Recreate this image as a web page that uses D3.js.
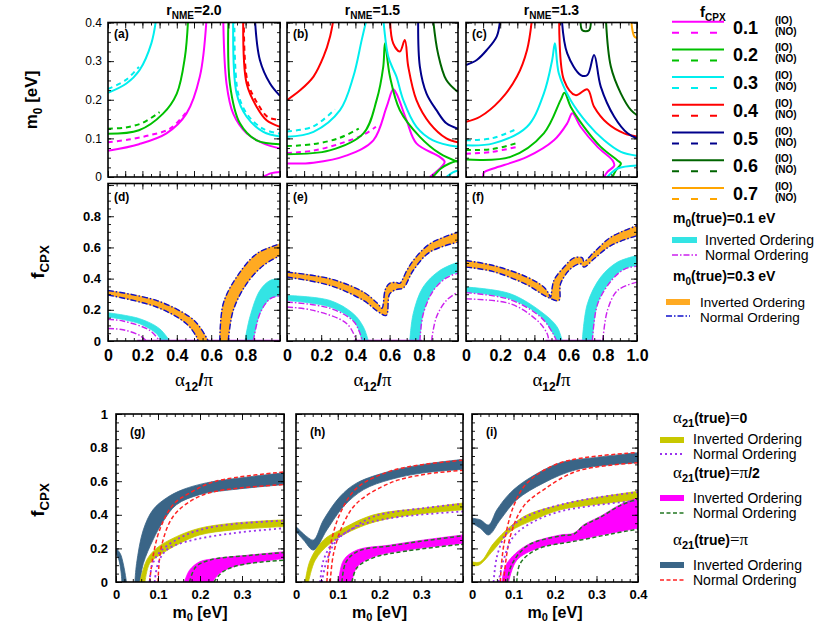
<!DOCTYPE html>
<html><head><meta charset="utf-8">
<script src="https://cdn.jsdelivr.net/npm/d3@7"></script>
<style>body{margin:0;background:#fff}</style>
</head><body><script>
// ---------------- DATA ----------------
const titles = ["2.0","1.5","1.3"];
const fcpxLevels = ["0.1","0.2","0.3","0.4","0.5","0.6","0.7"];
const topYTicks = [0,0.1,0.2,0.3,0.4];
const midYTicks = [0,0.2,0.4,0.6,0.8];
const midXTicks = [0,0.2,0.4,0.6,0.8];
const midXTicksF = [0,0.2,0.4,0.6,0.8,1.0];
const botYTicks = [0,0.2,0.4,0.6,0.8,1];
const botXTicks = [0,0.1,0.2,0.3];
const botXTicksI = [0,0.1,0.2,0.3,0.4];

// panel (a): [alpha12/pi, m0]
const a_m_L=[[0,0.068],[0.18,0.085],[0.34,0.113],[0.456,0.164],[0.534,0.26],[0.573,0.41]];
const a_m_L_no=[[0,0.09],[0.12,0.097],[0.24,0.108],[0.36,0.125],[0.46,0.17]];
const a_m_R=[[0.67,0.41],[0.689,0.242],[0.728,0.164],[0.806,0.113],[0.903,0.087],[1,0.074]];
const a_m_B=[[0.9,0],[0.95,0.01],[1,0.013]];
const a_g_L=[[0,0.112],[0.18,0.121],[0.32,0.164],[0.4,0.216],[0.447,0.31],[0.466,0.41]];
const a_g_L_no=[[0,0.125],[0.1,0.128],[0.2,0.14],[0.3,0.168]];
const a_g_R=[[0.7,0.41],[0.709,0.24],[0.767,0.139],[0.864,0.095],[1,0.085]];
const a_c_L=[[0,0.218],[0.107,0.242],[0.184,0.277],[0.252,0.346],[0.28,0.41]];
const a_c_L_no=[[0,0.228],[0.1,0.25],[0.18,0.285]];
const a_c_R=[[0.728,0.41],[0.748,0.216],[0.806,0.156],[0.903,0.117],[1,0.105]];
const a_c_R_no=[[0.735,0.41],[0.755,0.22],[0.81,0.162],[0.9,0.125],[1,0.112]];
const a_r_R=[[0.786,0.41],[0.806,0.242],[0.864,0.182],[0.922,0.147],[1,0.13]];
const a_r_R_no=[[0.79,0.41],[0.81,0.25],[0.87,0.19],[0.93,0.155],[1,0.148]];
const a_n_R=[[0.854,0.41],[0.883,0.303],[0.942,0.242],[1,0.21]];

// panel (b)
const b_m=[[0,0.035],[0.155,0.037],[0.35,0.056],[0.505,0.095],[0.583,0.182],[0.621,0.227],[0.64,0.216],[0.699,0.147],[0.757,0.087],[0.893,0.052],[0.922,0.039],[0.903,0.026],[0.835,0]];
const b_m_no=[[0,0.062],[0.15,0.068],[0.3,0.085],[0.45,0.11],[0.52,0.13]];
const b_g=[[0,0.059],[0.25,0.069],[0.447,0.113],[0.524,0.199],[0.563,0.286],[0.573,0.346],[0.602,0.26],[0.66,0.173],[0.777,0.104],[0.893,0.061],[1,0.039]];
const b_g_B=[[0.854,0],[0.9,0.022],[0.95,0.035],[1,0.042]];
const b_g_no=[[0,0.08],[0.15,0.085],[0.3,0.1],[0.42,0.125]];
const b_c_L=[[0,0.104],[0.155,0.117],[0.31,0.173],[0.388,0.26],[0.437,0.355],[0.466,0.41]];
const b_c_no=[[0,0.118],[0.15,0.13],[0.28,0.175]];
const b_c_R=[[0.563,0.41],[0.592,0.312],[0.62,0.28],[0.64,0.26],[0.68,0.199],[0.757,0.13],[0.854,0.095],[1,0.078]];
const b_c_B=[[0.932,0],[0.97,0.012],[1,0.017]];
const b_r_L=[[0,0.199],[0.078,0.225],[0.155,0.26],[0.214,0.312],[0.252,0.364],[0.272,0.41]];
const b_r_R=[[0.602,0.41],[0.621,0.346],[0.66,0.325],[0.689,0.355],[0.709,0.286],[0.757,0.199],[0.835,0.139],[0.932,0.1],[1,0.09]];
const b_n_R=[[0.767,0.41],[0.777,0.286],[0.816,0.216],[0.874,0.173],[0.932,0.139],[1,0.125]];
const b_dg_R=[[0.854,0.41],[0.883,0.32],[0.932,0.251],[1,0.22]];

// panel (c)
const c_m=[[0.1,0],[0.105,0.012],[0.16,0.022],[0.357,0.052],[0.514,0.095],[0.592,0.139],[0.622,0.165],[0.67,0.13],[0.769,0.078],[0.857,0.043],[0.867,0.03],[0.827,0.013],[0.808,0]];
const c_m_no=[[0,0.06],[0.15,0.065],[0.3,0.078]];
const c_g=[[0,0.045],[0.26,0.052],[0.455,0.113],[0.553,0.199],[0.576,0.218],[0.612,0.182],[0.69,0.13],[0.788,0.078],[0.886,0.043],[0.906,0.035],[0.876,0.017],[0.857,0]];
const c_g_no=[[0,0.07],[0.15,0.072],[0.3,0.088]];
const c_c=[[0,0.082],[0.16,0.087],[0.357,0.13],[0.455,0.216],[0.504,0.303],[0.52,0.346],[0.543,0.268],[0.612,0.199],[0.71,0.139],[0.808,0.095],[0.906,0.065],[1,0.055]];
const c_c_no=[[0,0.095],[0.15,0.1],[0.3,0.125]];
const c_c_B=[[0.827,0],[0.886,0.022],[1,0.03]];
const c_r_L=[[0,0.143],[0.082,0.156],[0.2,0.199],[0.298,0.26],[0.357,0.329],[0.386,0.41]];
const c_r_R=[[0.545,0.41],[0.573,0.251],[0.641,0.212],[0.71,0.227],[0.749,0.182],[0.827,0.139],[0.925,0.113],[1,0.105]];
const c_n_L=[[0,0.29],[0.063,0.303],[0.122,0.329],[0.18,0.364],[0.2,0.41]];
const c_n_R=[[0.56,0.41],[0.592,0.32],[0.671,0.264],[0.71,0.264],[0.749,0.316],[0.788,0.234],[0.867,0.156],[0.945,0.113],[1,0.1]];
const c_dg_T=[[0.67,0.41],[0.68,0.38],[0.72,0.38],[0.73,0.41]];
const c_dg_R=[[0.818,0.41],[0.847,0.286],[0.906,0.216],[0.965,0.173],[1,0.16]];
const c_o_R=[[0.965,0.41],[0.984,0.364],[1,0.36]];

// panel (d): [alpha12/pi, fCPX]
const d_o_up=[[0,0.324],[0.282,0.26],[0.476,0.154],[0.534,0.09],[0.583,0]];
const d_o_lo=[[0,0.295],[0.282,0.218],[0.456,0.111],[0.515,0.026],[0.524,0]];
const d_o2_up=[[0.65,0],[0.67,0.239],[0.748,0.41],[0.864,0.559],[1,0.623]];
const d_o2_lo=[[0.699,0],[0.728,0.196],[0.806,0.367],[0.903,0.484],[1,0.548]];
const d_c_up=[[0,0.181],[0.184,0.143],[0.3,0.079],[0.359,0]];
const d_c_lo=[[0,0.154],[0.184,0.111],[0.282,0.047],[0.31,0]];
const d_c2_up=[[0.796,0],[0.825,0.154],[0.883,0.324],[0.942,0.388],[1,0.4]];
const d_c2_lo=[[0.845,0],[0.883,0.175],[0.942,0.271],[1,0.292]];
const d_m1=[[0,0.139],[0.087,0.128],[0.243,0.068],[0.3,0]];
const d_m2=[[0,0.08],[0.087,0.072],[0.184,0.036],[0.223,0]];
const d_m3=[[0.845,0],[0.883,0.175],[0.942,0.27],[1,0.29]];
const d_m_base=[[0.17,0],[1,0]];

// panel (e)
const e_o_up=[[0,0.442],[0.252,0.399],[0.447,0.314],[0.53,0.24],[0.555,0.21],[0.575,0.33],[0.6,0.37],[0.64,0.375],[0.66,0.37],[0.7,0.45],[0.738,0.516],[0.835,0.623],[1,0.698]];
const e_o_lo=[[0,0.41],[0.252,0.356],[0.447,0.26],[0.53,0.19],[0.58,0.164],[0.6,0.3],[0.64,0.33],[0.68,0.34],[0.738,0.452],[0.835,0.57],[1,0.634]];
const e_c_up=[[0,0.292],[0.252,0.26],[0.388,0.175],[0.447,0.09],[0.476,0]];
const e_c_lo=[[0,0.26],[0.252,0.218],[0.388,0.132],[0.427,0.047],[0.437,0]];
const e_c2_up=[[0.718,0],[0.738,0.175],[0.796,0.346],[0.893,0.452],[1,0.506]];
const e_c2_lo=[[0.777,0],[0.796,0.175],[0.854,0.324],[0.932,0.41],[1,0.442]];
const e_m1=[[0,0.25],[0.252,0.21],[0.39,0.125],[0.43,0.04],[0.44,0]];
const e_m2=[[0,0.218],[0.155,0.196],[0.35,0.111],[0.408,0]];
const e_m3=[[0.777,0],[0.796,0.17],[0.854,0.32],[0.932,0.405],[1,0.435]];
const e_m4=[[0.845,0],[0.874,0.154],[0.932,0.26],[1,0.314]];
const e_m_base=[[0.39,0],[0.79,0]];

// panel (f)
const f_o_up=[[0,0.516],[0.16,0.484],[0.357,0.41],[0.455,0.346],[0.484,0.303],[0.494,0.28],[0.514,0.388],[0.573,0.474],[0.631,0.533],[0.68,0.533],[0.69,0.51],[0.749,0.57],[0.847,0.666],[1,0.74]];
const f_o_lo=[[0,0.474],[0.16,0.445],[0.357,0.36],[0.475,0.282],[0.543,0.26],[0.553,0.367],[0.612,0.463],[0.67,0.495],[0.69,0.474],[0.749,0.527],[0.847,0.612],[1,0.676]];
const f_c_up=[[0,0.346],[0.259,0.303],[0.455,0.175],[0.533,0.09],[0.563,0]];
const f_c_lo=[[0,0.314],[0.259,0.27],[0.44,0.155],[0.51,0.047],[0.533,0]];
const f_c2_up=[[0.68,0],[0.71,0.239],[0.788,0.41],[0.886,0.506],[1,0.548]];
const f_c2_lo=[[0.739,0],[0.769,0.239],[0.847,0.388],[0.925,0.463],[1,0.484]];
const f_m1=[[0,0.31],[0.259,0.265],[0.44,0.15],[0.51,0.045],[0.53,0]];
const f_m2=[[0,0.27],[0.259,0.239],[0.416,0.132],[0.475,0.047],[0.484,0]];
const f_m3=[[0.739,0],[0.769,0.235],[0.847,0.383],[0.925,0.46],[1,0.48]];
const f_m4=[[0.8,0],[0.827,0.196],[0.886,0.324],[1,0.378]];
const f_m_base=[[0.465,0],[0.79,0]];

// panel (g): [m0, fCPX]
const g_pi_up=[[0.045,0],[0.049,0.11],[0.065,0.31],[0.088,0.43],[0.12,0.5],[0.159,0.55],[0.215,0.59],[0.278,0.614],[0.4,0.65]];
const g_pi_lo=[[0.057,0],[0.065,0.11],[0.088,0.25],[0.112,0.36],[0.144,0.46],[0.199,0.52],[0.278,0.55],[0.4,0.58]];
const g_pi2_up=[[0,0.2],[0.01,0.17],[0.018,0.1],[0.025,0]];
const g_pi2_lo=[[0,0.17],[0.007,0.13],[0.012,0.06],[0.014,0]];
const g_pi_no1=[[0.08,0],[0.088,0.15],[0.104,0.31],[0.136,0.46],[0.183,0.54],[0.238,0.6],[0.4,0.655]];
const g_pi_no2=[[0.1,0],[0.108,0.21],[0.136,0.39],[0.183,0.49],[0.238,0.54],[0.4,0.58]];
const g_0_up=[[0.057,0],[0.073,0.13],[0.096,0.2],[0.144,0.27],[0.199,0.32],[0.278,0.35],[0.4,0.37]];
const g_0_lo=[[0.069,0],[0.08,0.11],[0.104,0.16],[0.152,0.23],[0.199,0.28],[0.278,0.31],[0.4,0.33]];
const g_0_no1=[[0.08,0],[0.086,0.1],[0.105,0.18],[0.15,0.26],[0.2,0.31],[0.278,0.345],[0.4,0.365]];
const g_0_no2=[[0.092,0],[0.1,0.11],[0.12,0.19],[0.167,0.24],[0.278,0.29],[0.4,0.32]];
const g_h_up=[[0.163,0],[0.175,0.07],[0.199,0.12],[0.238,0.14],[0.317,0.16],[0.4,0.18]];
const g_h_lo=[[0.23,0],[0.246,0.05],[0.278,0.09],[0.341,0.12],[0.4,0.14]];
const g_h_no1=[[0.175,0],[0.19,0.09],[0.222,0.13],[0.317,0.158],[0.4,0.175]];
const g_h_no2=[[0.233,0],[0.254,0.06],[0.293,0.1],[0.4,0.13]];

// panel (h)
const h_pi_up=[[0,0.33],[0.026,0.27],[0.042,0.25],[0.066,0.37],[0.106,0.51],[0.146,0.59],[0.226,0.66],[0.306,0.7],[0.4,0.73]];
const h_pi_lo=[[0,0.3],[0.018,0.25],[0.042,0.19],[0.074,0.31],[0.114,0.45],[0.162,0.55],[0.226,0.61],[0.306,0.65],[0.4,0.67]];
const h_pi_no1=[[0.074,0],[0.082,0.21],[0.106,0.41],[0.146,0.56],[0.226,0.66],[0.306,0.7],[0.4,0.725]];
const h_pi_no2=[[0.082,0],[0.09,0.17],[0.114,0.35],[0.146,0.47],[0.226,0.59],[0.306,0.64],[0.4,0.665]];
const h_0_up=[[0.022,0],[0.034,0.13],[0.066,0.25],[0.106,0.31],[0.186,0.4],[0.306,0.44],[0.4,0.47]];
const h_0_lo=[[0.03,0],[0.046,0.13],[0.082,0.23],[0.146,0.32],[0.226,0.38],[0.4,0.43]];
const h_0_no1=[[0.058,0],[0.066,0.13],[0.09,0.24],[0.13,0.31],[0.186,0.39],[0.306,0.44],[0.4,0.465]];
const h_0_no2=[[0.062,0],[0.074,0.13],[0.098,0.25],[0.146,0.33],[0.226,0.38],[0.4,0.42]];
const h_h_up=[[0.102,0],[0.114,0.13],[0.146,0.19],[0.226,0.22],[0.306,0.25],[0.4,0.28]];
const h_h_lo=[[0.134,0],[0.146,0.09],[0.186,0.15],[0.266,0.19],[0.4,0.23]];
const h_h_no1=[[0.11,0],[0.12,0.12],[0.15,0.185],[0.226,0.215],[0.306,0.245],[0.4,0.275]];
const h_h_no2=[[0.134,0],[0.146,0.085],[0.186,0.145],[0.266,0.185],[0.4,0.225]];

// panel (i)
const i_pi_up=[[0,0.38],[0.02,0.37],[0.04,0.34],[0.06,0.43],[0.092,0.53],[0.133,0.61],[0.213,0.71],[0.293,0.74],[0.4,0.77]];
const i_pi_lo=[[0,0.35],[0.02,0.32],[0.04,0.28],[0.068,0.37],[0.108,0.49],[0.173,0.59],[0.253,0.67],[0.4,0.71]];
const i_pi_no1=[[0.068,0],[0.076,0.21],[0.1,0.45],[0.133,0.59],[0.213,0.71],[0.4,0.77]];
const i_pi_no2=[[0.076,0],[0.092,0.27],[0.124,0.45],[0.173,0.55],[0.253,0.66],[0.4,0.71]];
const i_0_up=[[0,0.12],[0.02,0.12],[0.052,0.23],[0.092,0.33],[0.133,0.4],[0.213,0.46],[0.293,0.5],[0.4,0.54]];
const i_0_lo=[[0,0.1],[0.016,0.1],[0.052,0.19],[0.092,0.3],[0.149,0.37],[0.213,0.43],[0.293,0.46],[0.4,0.49]];
const i_0_no1=[[0.052,0],[0.06,0.15],[0.08,0.28],[0.11,0.36],[0.16,0.42],[0.213,0.46],[0.293,0.5],[0.4,0.535]];
const i_0_no2=[[0.064,0],[0.076,0.13],[0.1,0.27],[0.149,0.36],[0.213,0.42],[0.293,0.455],[0.4,0.485]];
const i_h_up=[[0.072,0],[0.084,0.11],[0.133,0.22],[0.213,0.28],[0.245,0.29],[0.269,0.34],[0.309,0.39],[0.357,0.46],[0.4,0.5]];
const i_h_lo=[[0.088,0],[0.108,0.13],[0.157,0.2],[0.253,0.25],[0.333,0.29],[0.4,0.32]];
const i_h_no1=[[0.085,0],[0.095,0.1],[0.133,0.215],[0.213,0.275],[0.245,0.285],[0.269,0.335],[0.309,0.385],[0.357,0.455],[0.4,0.495]];
const i_h_no2=[[0.108,0],[0.116,0.11],[0.157,0.195],[0.253,0.245],[0.333,0.285],[0.4,0.315]];

// ---------------- STYLE ----------------
const FONT='"Liberation Sans",Arial,Helvetica,sans-serif';
const SERIF='"Liberation Serif","Times New Roman",serif';
const fColors=["#ff00ff","#00c000","#00eeee","#ff0000","#00008b","#006400","#ffa500"];
const C={mag:"#ff00ff",grn:"#00c000",cyn:"#00eeee",red:"#ff0000",nav:"#00008b",dgr:"#006400",org:"#ffa500",
  band0:"#33e4e4",bandO:"#ffaa22",nav2:"#1010cc",magNO:"#cc22ee",
  yel:"#c8c800",bmag:"#ff00ff",slate:"#3a6587",purp:"#9933ee",gdash:"#227722",rdash:"#ff2222"};
const DASH="5,4", DASHDOT="6,2,1.5,2", DOT="2,3", SDASH="4,2.5";

const svg=d3.select("body").append("svg").attr("width",822).attr("height",635)
  .style("font-family",FONT);

function panel(id,x0,x1,y0,y1,xd,yd){
  const x=d3.scaleLinear().domain(xd).range([x0,x1]);
  const y=d3.scaleLinear().domain(yd).range([y1,y0]);
  svg.append("clipPath").attr("id",id).append("rect").attr("x",x0).attr("y",y0).attr("width",x1-x0).attr("height",y1-y0);
  const g=svg.append("g").attr("clip-path",`url(#${id})`);
  return {id,x,y,g,x0,x1,y0,y1};
}
function lineGen(p){return d3.line().x(d=>p.x(d[0])).y(d=>p.y(d[1])).curve(d3.curveCatmullRom.alpha(0.5));}
function L(p,data,color,w,dash){
  p.g.append("path").attr("d",lineGen(p)(data)).attr("fill","none").attr("stroke",color)
   .attr("stroke-width",w).attr("stroke-dasharray",dash||null).attr("stroke-linejoin","round");
}
function B(p,up,lo,color){
  const a=lineGen(p)(up), b=lineGen(p)(lo.slice().reverse());
  p.g.append("path").attr("d",a+"L"+b.slice(1)+"Z").attr("fill",color).attr("stroke",color).attr("stroke-width",0.8);
}
function ticks(p,xMaj,xMin,yMaj,yMin){
  const mk=(fn,scale,vals,size,tr)=>{
    svg.append("g").attr("transform",tr).call(fn(scale).tickValues(vals).tickSize(size).tickFormat(""))
      .call(g=>{g.select(".domain").remove();g.selectAll("line").attr("stroke","#000").attr("stroke-width",0.9);});
  };
  mk(d3.axisBottom,p.x,xMaj,-6,`translate(0,${p.y1})`);
  mk(d3.axisBottom,p.x,xMin,-3,`translate(0,${p.y1})`);
  mk(d3.axisTop,p.x,xMaj,-6,`translate(0,${p.y0})`);
  mk(d3.axisTop,p.x,xMin,-3,`translate(0,${p.y0})`);
  mk(d3.axisLeft,p.y,yMaj,-6,`translate(${p.x0},0)`);
  mk(d3.axisLeft,p.y,yMin,-3,`translate(${p.x0},0)`);
  mk(d3.axisRight,p.y,yMaj,-6,`translate(${p.x1},0)`);
  mk(d3.axisRight,p.y,yMin,-3,`translate(${p.x1},0)`);
  svg.append("rect").attr("x",p.x0).attr("y",p.y0).attr("width",p.x1-p.x0).attr("height",p.y1-p.y0)
    .attr("fill","none").attr("stroke","#000").attr("stroke-width",1.6);
}
function labelsX(p,vals,fmt,size,weight,pad){
  svg.append("g").attr("transform",`translate(0,${p.y1})`)
    .call(d3.axisBottom(p.x).tickValues(vals).tickSize(0).tickPadding(pad).tickFormat(fmt))
    .call(g=>{g.select(".domain").remove();g.selectAll("text").attr("font-family",FONT).attr("font-size",size).attr("font-weight",weight).attr("fill","#000");});
}
function labelsY(p,vals,fmt,size,weight,pad){
  svg.append("g").attr("transform",`translate(${p.x0},0)`)
    .call(d3.axisLeft(p.y).tickValues(vals).tickSize(0).tickPadding(pad).tickFormat(fmt))
    .call(g=>{g.select(".domain").remove();g.selectAll("text").attr("font-family",FONT).attr("font-size",size).attr("font-weight",weight).attr("fill","#000");});
}
function plabel(p,t,dx,dy){
  svg.append("text").attr("x",p.x0+dx).attr("y",p.y0+dy).attr("font-size",12).attr("font-weight","bold").text(t);
}
const fmtG=d=>d===0?"0":d3.format("")(d);

// ---------------- PANELS ----------------
const pa=panel("ca",108,280,22.5,177,[0,1],[0,0.4]);
const pb=panel("cb",287,458,22.5,177,[0,1],[0,0.4]);
const pc=panel("cc",466,637,22.5,177,[0,1],[0,0.4]);
const pd=panel("cd",108,280,183.5,341,[0,1],[0,1.01]);
const pe=panel("ce",287,458,183.5,341,[0,1],[0,1.01]);
const pf=panel("cf",466,637,183.5,341,[0,1],[0,1.01]);
const pg=panel("cg",116,284,414,582,[0,0.4],[0,1]);
const ph=panel("ch",296,463,414,582,[0,0.4],[0,1]);
const pi=panel("ci",472,638,414,582,[0,0.4],[0,1]);

const LW=2;
// (a)
L(pa,a_m_L_no,C.mag,LW,DASH);L(pa,a_g_L_no,C.grn,LW,DASH);L(pa,a_c_L_no,C.cyn,LW,DASH);
L(pa,a_c_R_no,C.cyn,LW,DASH);L(pa,a_r_R_no,C.red,LW,DASH);
L(pa,a_m_L,C.mag,LW);L(pa,a_m_R,C.mag,LW);L(pa,a_m_B,C.mag,LW);
L(pa,a_g_L,C.grn,LW);L(pa,a_g_R,C.grn,LW);
L(pa,a_c_L,C.cyn,LW);L(pa,a_c_R,C.cyn,LW);
L(pa,a_r_R,C.red,LW);L(pa,a_n_R,C.nav,LW);
// (b)
L(pb,b_m_no,C.mag,LW,DASH);L(pb,b_g_no,C.grn,LW,DASH);L(pb,b_c_no,C.cyn,LW,DASH);
L(pb,b_m,C.mag,LW);L(pb,b_g,C.grn,LW);L(pb,b_g_B,C.grn,LW);
L(pb,b_c_L,C.cyn,LW);L(pb,b_c_R,C.cyn,LW);L(pb,b_c_B,C.cyn,LW);
L(pb,b_r_L,C.red,LW);L(pb,b_r_R,C.red,LW);L(pb,b_n_R,C.nav,LW);L(pb,b_dg_R,C.dgr,LW);
// (c)
L(pc,c_m_no,C.mag,LW,DASH);L(pc,c_g_no,C.grn,LW,DASH);L(pc,c_c_no,C.cyn,LW,DASH);
L(pc,c_m,C.mag,LW);L(pc,c_g,C.grn,LW);L(pc,c_c,C.cyn,LW);L(pc,c_c_B,C.cyn,LW);
L(pc,c_r_L,C.red,LW);L(pc,c_r_R,C.red,LW);L(pc,c_n_L,C.nav,LW);L(pc,c_n_R,C.nav,LW);
L(pc,c_dg_T,C.dgr,LW);L(pc,c_dg_R,C.dgr,LW);L(pc,c_o_R,C.org,LW);

// (d)(e)(f)
function midPanel(p,o,o2,c,c2,ms,base){
  B(p,c[0],c[1],C.band0); if(c2) B(p,c2[0],c2[1],C.band0);
  ms.forEach(m=>L(p,m,C.magNO,1.4,DASHDOT));
  L(p,base,C.magNO,2.5);
  B(p,o[0],o[1],C.bandO); if(o2) B(p,o2[0],o2[1],C.bandO);
  const edges=[o[0],o[1]].concat(o2?[o2[0],o2[1]]:[]);
  edges.forEach(m=>L(p,m,C.nav2,1.4,DASHDOT));
}
midPanel(pd,[d_o_up,d_o_lo],[d_o2_up,d_o2_lo],[d_c_up,d_c_lo],[d_c2_up,d_c2_lo],[d_m1,d_m2,d_m3],d_m_base);
midPanel(pe,[e_o_up,e_o_lo],null,[e_c_up,e_c_lo],[e_c2_up,e_c2_lo],[e_m1,e_m2,e_m3,e_m4],e_m_base);
midPanel(pf,[f_o_up,f_o_lo],null,[f_c_up,f_c_lo],[f_c2_up,f_c2_lo],[f_m1,f_m2,f_m3,f_m4],f_m_base);

// (g)(h)(i)
function botPanel(p,pi_,pi2,piNo,z,zNo,h,hNo){
  B(p,pi_[0],pi_[1],C.slate); if(pi2) B(p,pi2[0],pi2[1],C.slate);
  B(p,z[0],z[1],C.yel);
  B(p,h[0],h[1],C.bmag);
  piNo.forEach(m=>L(p,m,C.rdash,1.5,SDASH));
  zNo.forEach(m=>L(p,m,C.purp,1.8,DOT));
  hNo.forEach(m=>L(p,m,C.gdash,1.5,SDASH));
}
botPanel(pg,[g_pi_up,g_pi_lo],[g_pi2_up,g_pi2_lo],[g_pi_no1,g_pi_no2],[g_0_up,g_0_lo],[g_0_no1,g_0_no2],[g_h_up,g_h_lo],[g_h_no1,g_h_no2]);
botPanel(ph,[h_pi_up,h_pi_lo],null,[h_pi_no1,h_pi_no2],[h_0_up,h_0_lo],[h_0_no1,h_0_no2],[h_h_up,h_h_lo],[h_h_no1,h_h_no2]);
botPanel(pi,[i_pi_up,i_pi_lo],null,[i_pi_no1,i_pi_no2],[i_0_up,i_0_lo],[i_0_no1,i_0_no2],[i_h_up,i_h_lo],[i_h_no1,i_h_no2]);

// ---------------- AXES ----------------
const r=(a,b,s)=>d3.range(a,b+s/2,s);
[pa,pb,pc].forEach(p=>ticks(p,r(0,1,0.1),r(0,1,0.05),r(0,0.4,0.1),r(0,0.4,0.025)));
[pd,pe,pf].forEach(p=>ticks(p,r(0,1,0.2),r(0,1,0.05),r(0,1,0.2),r(0,1,0.05)));
[pg,ph,pi].forEach(p=>ticks(p,r(0,0.4,0.1),r(0,0.4,0.02),r(0,1,0.2),r(0,1,0.05)));

labelsY(pa,topYTicks,fmtG,12,"normal",6);
labelsY(pd,midYTicks,fmtG,13,"bold",7);
labelsX(pd,midXTicks,fmtG,16,"bold",9);
labelsX(pe,midXTicks,fmtG,16,"bold",9);
labelsX(pf,midXTicksF,d=>d===0?"0":d3.format(".1f")(d),16,"bold",9);
labelsY(pg,botYTicks,fmtG,13,"bold",8);
labelsX(pg,botXTicks,fmtG,13,"bold",8);
labelsX(ph,botXTicks,fmtG,13,"bold",8);
labelsX(pi,botXTicksI,fmtG,13,"bold",8);

["(a)","(b)","(c)"].forEach((t,k)=>plabel([pa,pb,pc][k],t,6,15));
["(d)","(e)","(f)"].forEach((t,k)=>plabel([pd,pe,pf][k],t,6,17));
["(g)","(h)","(i)"].forEach((t,k)=>plabel([pg,ph,pi][k],t,14,22));

// titles r_NME
[pa,pb,pc].forEach((p,k)=>{
  const t=svg.append("text").attr("x",(p.x0+p.x1)/2).attr("y",15).attr("text-anchor","middle").attr("font-size",14).attr("font-weight","bold");
  t.append("tspan").text("r");
  t.append("tspan").attr("font-size",10).attr("dy",4).text("NME");
  t.append("tspan").attr("dy",-4).text("="+titles[k]);
});
// x titles alpha12/pi
[pd,pe,pf].forEach(p=>{
  const t=svg.append("text").attr("x",(p.x0+p.x1)/2).attr("y",386).attr("text-anchor","middle").attr("font-size",19);
  t.append("tspan").attr("font-family",SERIF).text("α");
  t.append("tspan").attr("font-size",12).attr("font-weight","bold").attr("dy",5).text("12");
  t.append("tspan").attr("dy",-5).attr("font-weight","bold").text("/");
  t.append("tspan").attr("font-family",SERIF).text("π");
});
// bottom x titles
[pg,ph,pi].forEach(p=>{
  const t=svg.append("text").attr("x",(p.x0+p.x1)/2).attr("y",618).attr("text-anchor","middle").attr("font-size",16).attr("font-weight","bold");
  t.append("tspan").text("m");
  t.append("tspan").attr("font-size",11).attr("dy",3).text("0");
  t.append("tspan").attr("dy",-3).text(" [eV]");
});
// y titles
function ytitle(x,y,main,sub,rest,size){
  const t=svg.append("text").attr("transform",`translate(${x},${y}) rotate(-90)`).attr("text-anchor","middle").attr("font-size",size).attr("font-weight","bold");
  t.append("tspan").text(main);
  t.append("tspan").attr("font-size",size*0.7).attr("dy",size*0.28).text(sub);
  if(rest) t.append("tspan").attr("dy",-size*0.28).text(rest);
}
ytitle(37,100,"m","0"," [eV]",17);
ytitle(44,262,"f","CPX","",19);
ytitle(44,500,"f","CPX","",19);

// ---------------- LEGENDS ----------------
{
  const t=svg.append("text").attr("x",700).attr("y",17).attr("font-size",15).attr("font-weight","bold");
  t.append("tspan").text("f");
  t.append("tspan").attr("font-size",10).attr("dy",4).text("CPX");
}
fcpxLevels.forEach((lv,k)=>{
  const y=21.7+27.7*k;
  svg.append("line").attr("x1",672).attr("x2",724).attr("y1",y).attr("y2",y).attr("stroke",fColors[k]).attr("stroke-width",2);
  svg.append("line").attr("x1",672).attr("x2",724).attr("y1",y+11).attr("y2",y+11).attr("stroke",fColors[k]).attr("stroke-width",2).attr("stroke-dasharray","7,12");
  svg.append("text").attr("x",733).attr("y",y+12).attr("font-size",18).attr("font-weight","bold").text(lv);
  svg.append("text").attr("x",775).attr("y",y+2).attr("font-size",10).attr("font-weight","bold").text("(IO)");
  svg.append("text").attr("x",775).attr("y",y+13).attr("font-size",10).attr("font-weight","bold").text("(NO)");
});
function mtrue(y,val){
  const t=svg.append("text").attr("x",673).attr("y",y).attr("font-size",14).attr("font-weight","bold");
  t.append("tspan").text("m");t.append("tspan").attr("font-size",10).attr("dy",4).text("0");
  t.append("tspan").attr("dy",-4).text("(true)="+val+" eV");
}
function atrue(y,valParts){
  const t=svg.append("text").attr("x",673).attr("y",y).attr("font-size",14).attr("font-weight","bold");
  t.append("tspan").attr("font-family",SERIF).attr("font-weight","normal").attr("font-size",17).text("α");
  t.append("tspan").attr("font-size",11).attr("dy",4).text("21");
  t.append("tspan").attr("dy",-4).text("(true)");
  valParts.forEach(v=>t.append("tspan").attr("font-family",v[1]?SERIF:FONT).attr("font-weight",v[1]?"normal":"bold").attr("font-size",v[1]?17:14).text(v[0]));
}
function legRect(x,y,w,col,tx,ty,label,fs){
  svg.append("rect").attr("x",x).attr("y",y).attr("width",w).attr("height",6).attr("fill",col);
  svg.append("text").attr("x",tx).attr("y",ty).attr("font-size",fs||14).text(label);
}
function legLine(x,y,w,col,dash,sw,tx,ty,label,fs){
  svg.append("line").attr("x1",x).attr("x2",x+w).attr("y1",y).attr("y2",y).attr("stroke",col).attr("stroke-width",sw).attr("stroke-dasharray",dash);
  svg.append("text").attr("x",tx).attr("y",ty).attr("font-size",fs||14).text(label);
}
mtrue(223,"0.1");
legRect(672,237,25,C.band0,705,245,"Inverted Ordering");
legLine(672,255,25,C.magNO,DASHDOT,1.5,705,260,"Normal Ordering");
mtrue(281,"0.3");
legRect(666,299,24,C.bandO,700,307,"Inverted Ordering",13.5);
legLine(666,316,24,C.nav2,DASHDOT,1.5,700,322,"Normal Ordering",13.5);

atrue(423,[["=",true],["0",false]]);
legRect(660,437,24,C.yel,693,444,"Inverted Ordering");
legLine(660,454,24,C.purp,DOT,1.8,693,459,"Normal Ordering");
atrue(478,[["=π",true],["/2",false]]);
legRect(660,495,24,C.bmag,693,503,"Inverted Ordering");
legLine(660,513,24,C.gdash,SDASH,1.5,693,518,"Normal Ordering");
atrue(545,[["=π",true]]);
legRect(660,562,24,C.slate,693,570,"Inverted Ordering");
legLine(660,580,24,C.rdash,SDASH,1.5,693,585,"Normal Ordering");
</script></body></html>
